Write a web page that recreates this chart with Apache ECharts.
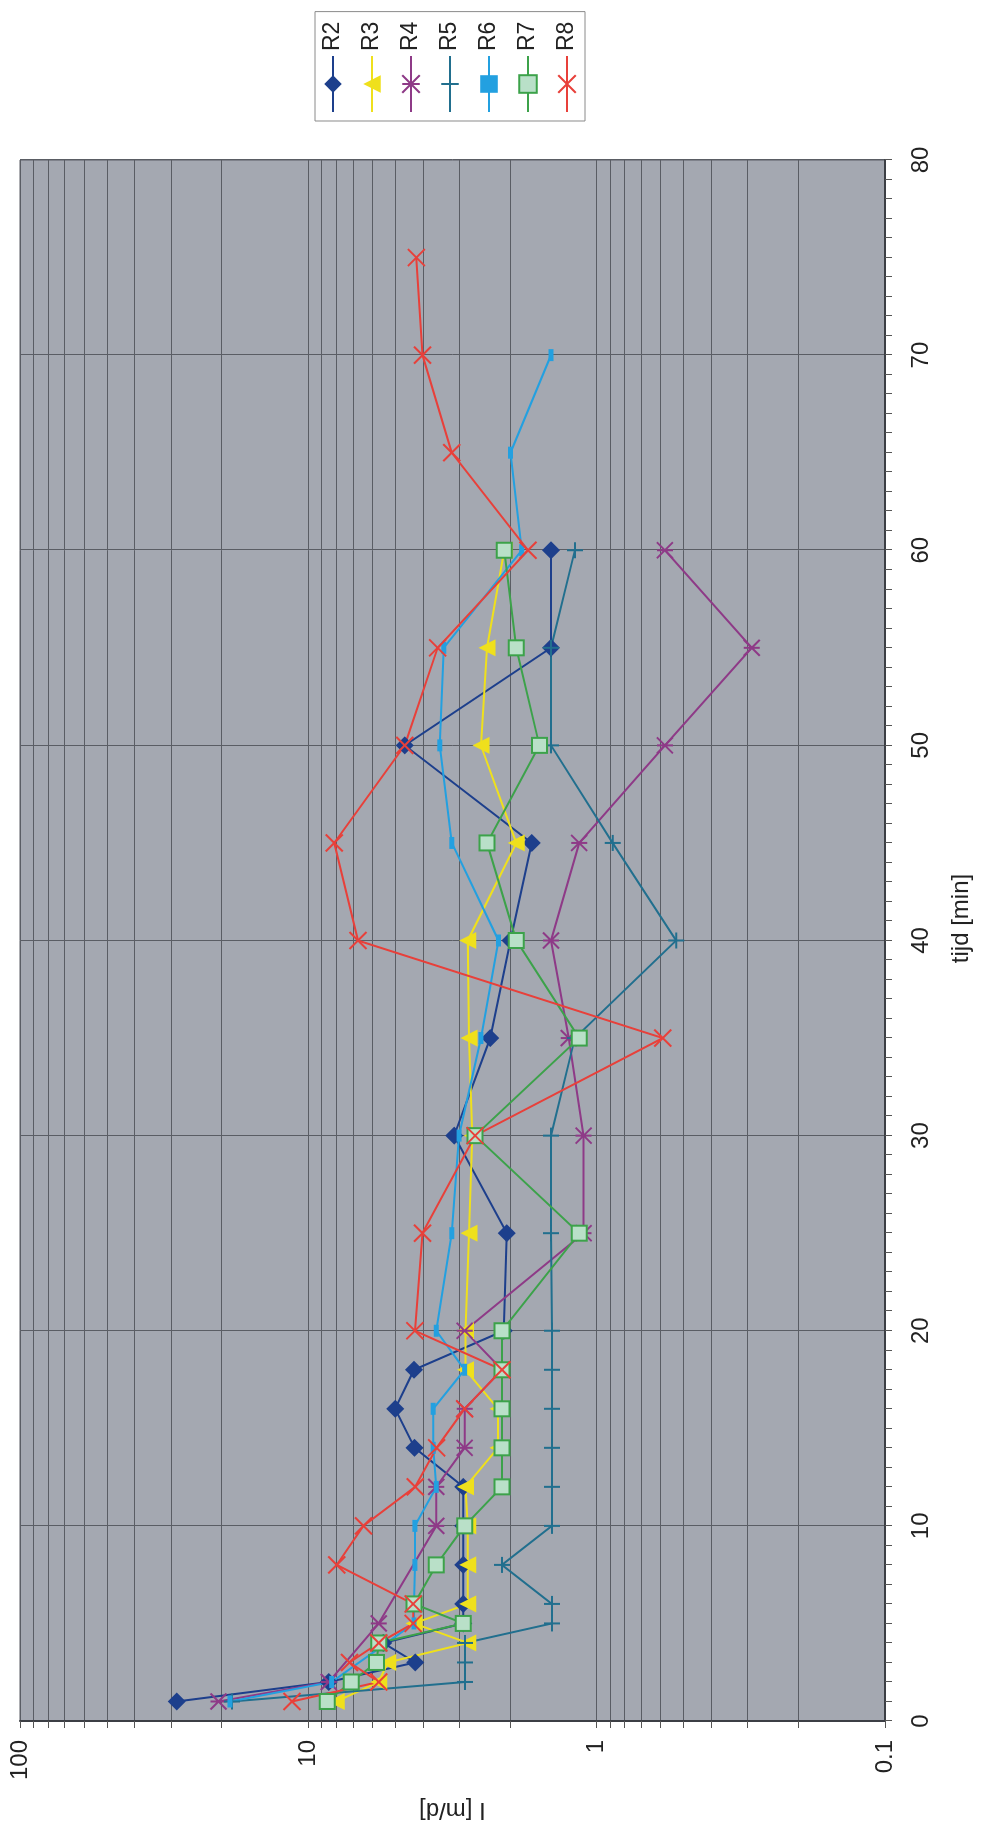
<!DOCTYPE html>
<html>
<head>
<meta charset="utf-8">
<script src="https://cdn.jsdelivr.net/npm/echarts@6/dist/echarts.min.js"></script>
<style>
html,body{margin:0;padding:0;background:#fff;width:984px;height:1840px;overflow:hidden;}
#wrap{position:absolute;left:0;top:0;width:1840px;height:984px;transform-origin:0 0;transform:translateY(1840px) rotate(-90deg);}
#chart{width:1840px;height:984px;}
</style>
</head>
<body>
<div id="wrap"><div id="chart"></div></div>
<script>
// time in minutes
const times = [1,2,3,4,5,6,8,10,12,14,16,18,20,25,30,35,40,45,50,55,60,65,70,75];
// I [m/d] per series (null = no measurement)
const R2 = [28.6,8.5,4.26,5.5,2.9,2.9,2.9,2.9,2.9,4.28,5.0,4.3,2.1,2.05,3.12,2.34,1.99,1.68,4.63,1.44,1.44,null,null,null];
const R3 = [8.0,5.7,5.3,2.8,4.3,2.8,2.8,2.8,2.85,2.2,2.2,2.85,2.85,2.77,2.7,2.77,2.8,1.9,2.52,2.4,2.09,null,null,null];
const R4 = [20.5,8.5,null,null,5.7,null,null,3.6,3.6,2.87,2.87,2.13,2.87,1.11,1.11,1.25,1.44,1.15,0.58,0.29,0.58,null,null,null];
const R5 = [18.4,2.86,2.86,2.86,1.43,1.43,2.13,1.43,1.43,1.43,1.43,1.43,1.43,1.44,1.44,1.19,0.53,0.88,1.44,1.44,1.19,null,null,null];
const R6 = [18.7,8.3,null,null,4.3,4.3,4.27,4.27,3.6,3.69,3.69,2.87,3.6,3.18,3.0,2.52,2.19,3.18,3.5,3.39,1.82,1.99,1.44,null];
const R7 = [8.6,7.1,5.8,5.7,2.9,4.3,3.6,2.87,2.13,2.13,2.13,2.13,2.13,1.15,2.64,1.15,1.9,2.4,1.58,1.9,2.09,null,null,null];
const R8 = [11.4,5.7,7.2,5.7,4.33,4.33,7.97,6.44,4.26,3.59,2.87,2.13,4.27,4.02,2.64,0.59,6.73,8.13,4.63,3.56,1.73,3.18,4.02,4.22];
const seriesNames = ['R2','R3','R4','R5','R6','R7','R8'];
const seriesValues = [R2,R3,R4,R5,R6,R7,R8];
const timeLabelValues = [0,10,20,30,40,50,60,70,80];
const logLabelValues = [0.1,1,10,100];
const logTickValues = [0.1,0.2,0.3,0.4,0.5,0.6,0.7,0.8,0.9,1,2,3,4,5,6,7,8,9,10,20,30,40,50,60,70,80,90,100];

const styles = {
  R2:{color:'#1d3f8c', symbol:'diamond', size:18, fill:'#1d3f8c', bw:0},
  R3:{color:'#efe01c', symbol:'triangle', size:17, fill:'#efe01c', bw:0},
  R4:{color:'#8e3a87', symbol:'path://M0,0L10,10M10,0L0,10M5,0L5,10', size:16, fill:'#8e3a87', bw:2},
  R5:{color:'#216f8e', symbol:'path://M5,0L5,10M0,5L10,5', size:16, fill:'#216f8e', bw:2},
  R6:{color:'#23a0e0', symbol:'rect', size:[12,5], fill:'#23a0e0', bw:0},
  R7:{color:'#3ca24a', symbol:'rect', size:15, fill:'#b9e0c8', bw:2},
  R8:{color:'#e8403a', symbol:'path://M0,0L10,10M10,0L0,10', size:17, fill:'#e8403a', bw:2}
};

const font = 'Liberation Sans, Arial, sans-serif';
const series = seriesNames.map((n,i)=>{
  const s = styles[n];
  return {
    name:n, type:'line',
    data: times.map((t,k)=>[t, seriesValues[i][k]]),
    connectNulls:true,
    symbol:s.symbol, symbolSize:s.size,
    showAllSymbol:true,
    lineStyle:{color:s.color,width:2},
    itemStyle:{color:s.fill,borderColor:s.color,borderWidth:s.bw,opacity:1},
    emphasis:{disabled:true},
    animation:false
  };
});

const chart = echarts.init(document.getElementById('chart'));
chart.setOption({
  animation:false,
  backgroundColor:'#ffffff',
  textStyle:{fontFamily:font},
  legend:{
    orient:'vertical', left:1719, top:315,
    data:seriesNames,
    itemWidth:56, itemHeight:22, itemGap:15,
    padding:[6,10,6,8],
    borderColor:'#8a8a8a', borderWidth:1, backgroundColor:'#fff',
    textStyle:{fontSize:23,color:'#222',lineHeight:24,fontFamily:font},
    selectedMode:false
  },
  grid:{left:119,right:160,top:20,bottom:99,show:true,backgroundColor:'#a4a8b1',borderColor:'#5a5d64',borderWidth:1,containLabel:false},
  xAxis:{
    type:'value', min:0, max:80, interval:10,
    name:'tijd [min]', nameLocation:'middle', nameGap:64,
    nameTextStyle:{fontSize:24,color:'#222',fontFamily:font,padding:[0,0,0,44]},
    axisLine:{show:true,onZero:false,lineStyle:{color:'#3c3f45',width:2}},
    axisTick:{show:true,length:7,lineStyle:{color:'#555'}},
    minorTick:{show:true,splitNumber:10,length:7,lineStyle:{color:'#555'}},
    splitLine:{show:true,lineStyle:{color:'#5a5d64',width:1}},
    axisLabel:{fontSize:24,color:'#222',margin:24,fontFamily:font,
      customValues:timeLabelValues}
  },
  yAxis:{
    type:'log', logBase:10, min:0.1, max:100,
    name:'I [m/d]', nameLocation:'middle', nameGap:77,
    nameTextStyle:{fontSize:24,color:'#222',fontFamily:font},
    axisLine:{show:true,onZero:false,lineStyle:{color:'#3c3f45',width:2}},
    axisTick:{show:true,length:7,lineStyle:{color:'#555'},customValues:logTickValues},
    splitLine:{show:true,lineStyle:{color:'#5a5d64',width:1}},
    axisLabel:{fontSize:24,color:'#222',margin:19,fontFamily:font,
      customValues:logLabelValues,
      formatter:v=>String(Math.round(v*10)/10)}
  },
  series:series
});
</script>
</body>
</html>
